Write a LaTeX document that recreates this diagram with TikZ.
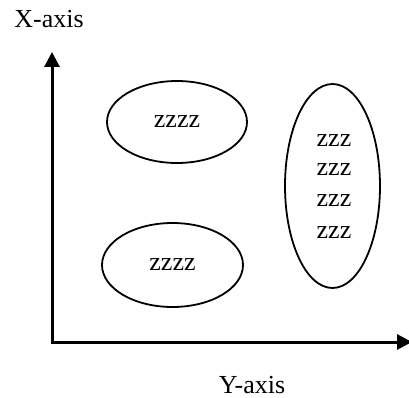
\documentclass[tikz,border=0pt]{standalone}
\usepackage{fontspec}
\setmainfont{Liberation Serif}
\usetikzlibrary{shapes.geometric,arrows.meta}
\begin{document}
\begin{tikzpicture}[x=1pt,y=-1pt,
  axis/.style={line width=3pt,-{Triangle[length=15pt,width=15pt]}},
  blob/.style={draw,ellipse,line width=1.8pt,inner sep=0pt,font=\fontsize{26}{31}\selectfont,align=center},
  lbl/.style={font=\fontsize{26}{31}\selectfont,inner sep=0pt}]
\useasboundingbox (0,0) rectangle (409,398);
\coordinate (o) at (52,342);
\coordinate (xe) at (52,52);
\coordinate (ye) at (412,342);
\draw[axis] (52,343.5) -- (xe);
\draw[axis] (50.5,342) -- (ye);
\node[lbl] (xl) at (49,19) {X-axis};
\node[lbl] (yl) at (252,385) {Y-axis};
\node[blob,minimum width=140pt,minimum height=82pt] (e1) at (177,122) {zzzz};
\node[blob,minimum width=141pt,minimum height=84pt] (e2) at (172.5,265) {zzzz};
\node[blob,minimum width=95pt,minimum height=204pt] (e3) at (332.5,186) {};
\node[lbl] (t1) at (334,141) {zzz};
\node[lbl] (t2) at (334,170) {zzz};
\node[lbl] (t3) at (334,201) {zzz};
\node[lbl] (t4) at (334,233) {zzz};
\end{tikzpicture}
\end{document}
